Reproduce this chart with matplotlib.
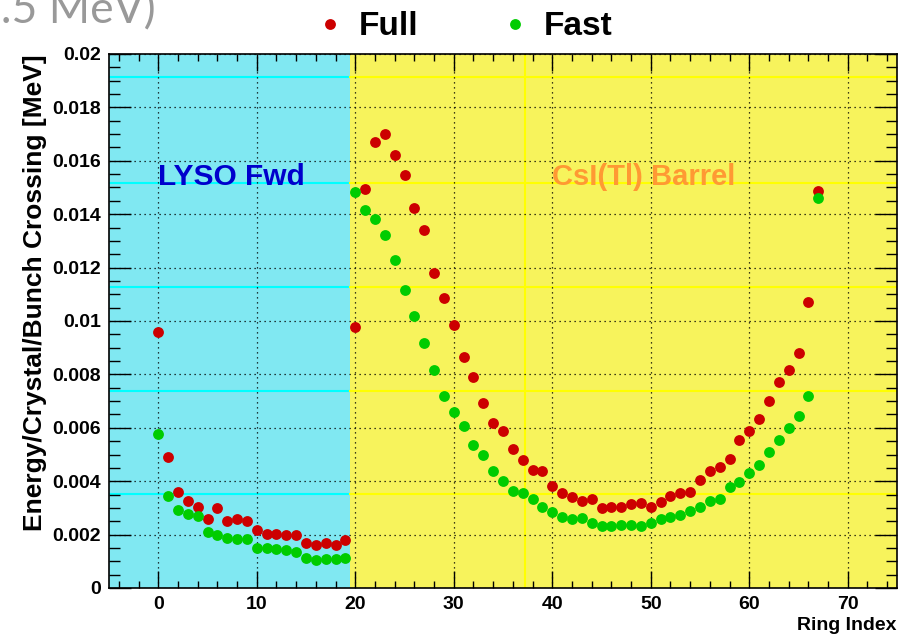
import matplotlib
matplotlib.use("Agg")
import matplotlib.pyplot as plt
from matplotlib.ticker import MultipleLocator, FuncFormatter
import numpy as np

# ring index and energy per crystal per bunch crossing [MeV]
ring = list(range(68))
full = [0.00957, 0.00492, 0.00358, 0.00327, 0.00304, 0.00259, 0.00298, 0.00250, 0.00260, 0.00250,
        0.00217, 0.00204, 0.00201, 0.00199, 0.00200, 0.00169, 0.00160, 0.00170, 0.00160, 0.00179,
        0.00976, 0.01495, 0.01670, 0.01699, 0.01621, 0.01545, 0.01424, 0.01340, 0.01178, 0.01087,
        0.00986, 0.00867, 0.00792, 0.00693, 0.00619, 0.00589, 0.00519, 0.00479, 0.00442, 0.00437,
        0.00382, 0.00354, 0.00341, 0.00325, 0.00332, 0.00298, 0.00304, 0.00303, 0.00313, 0.00320,
        0.00304, 0.00322, 0.00344, 0.00357, 0.00359, 0.00404, 0.00438, 0.00454, 0.00484, 0.00554,
        0.00588, 0.00633, 0.00702, 0.00771, 0.00818, 0.00880, 0.01071, 0.01486]
fast = [0.00577, 0.00344, 0.00294, 0.00279, 0.00269, 0.00210, 0.00198, 0.00189, 0.00183, 0.00182,
        0.00149, 0.00149, 0.00145, 0.00141, 0.00133, 0.00114, 0.00104, 0.00108, 0.00110, 0.00113,
        0.01482, 0.01415, 0.01381, 0.01321, 0.01230, 0.01117, 0.01017, 0.00917, 0.00818, 0.00720,
        0.00659, 0.00607, 0.00535, 0.00498, 0.00438, 0.00402, 0.00364, 0.00354, 0.00333, 0.00302,
        0.00285, 0.00266, 0.00257, 0.00263, 0.00242, 0.00234, 0.00234, 0.00235, 0.00235, 0.00233,
        0.00244, 0.00260, 0.00266, 0.00273, 0.00288, 0.00302, 0.00325, 0.00335, 0.00377, 0.00398,
        0.00432, 0.00460, 0.00508, 0.00553, 0.00600, 0.00645, 0.00719, 0.01460]

x_min, x_max = -5, 75
boundary = 19.5

plt.rcParams['font.family'] = ['Liberation Sans', 'DejaVu Sans']
plt.rcParams['font.weight'] = 'bold'

fig = plt.figure(figsize=(9, 6.41), dpi=100)
ax = fig.add_axes([109/900, 1-588/641, (897-109)/900, (588-54)/641])

# detector regions
ax.axvspan(x_min, boundary, color='#80e8f2', zorder=0, lw=0)
ax.axvspan(boundary, x_max, color='#f7f35c', zorder=0, lw=0)
# brighter seams of the fill pattern
for yy in [0.01913, 0.01518, 0.01128, 0.00738, 0.00351]:
    ax.plot([x_min, boundary], [yy, yy], color='#00ffff', lw=1.5, zorder=0.2)
    ax.plot([boundary, x_max], [yy, yy], color='#ffff00', lw=1.5, zorder=0.2)
ax.plot([37.2, 37.2], [0, 0.02], color='#ffff00', lw=1.5, zorder=0.2)

ax.plot(ring, full, 'o', color='#cc0000', ms=7.8, mew=0, label='Full', zorder=3)
ax.plot(ring, fast, 'o', color='#00cc00', ms=7.8, mew=0, label='Fast', zorder=3)

ax.set_xlim(x_min, x_max)
ax.set_ylim(0, 0.02)
ax.set_axisbelow(True)
ax.grid(True, which='major', color='black', linestyle=(0, (1, 3)), linewidth=0.9)

ax.xaxis.set_major_locator(MultipleLocator(10))
ax.xaxis.set_minor_locator(MultipleLocator(2))
ax.yaxis.set_major_locator(MultipleLocator(0.002))
ax.yaxis.set_minor_locator(MultipleLocator(0.0005))
ax.yaxis.set_major_formatter(FuncFormatter(lambda v, p: '%g' % round(v, 4)))
ax.tick_params(which='both', direction='in', top=True, right=True, labelsize=14, width=1)
ax.tick_params(axis='y', which='major', length=16, pad=6)
ax.tick_params(axis='y', which='minor', length=8)
ax.tick_params(axis='x', which='major', length=12, pad=6)
ax.tick_params(axis='x', which='minor', length=5)
for s in ax.spines.values():
    s.set_linewidth(1.2)

ax.set_ylabel('Energy/Crystal/Bunch Crossing [MeV]', fontsize=19, fontweight='bold', loc='top')
ax.yaxis.set_label_coords(-0.079, 1.0)
ax.set_xlabel('Ring Index', fontsize=14, fontweight='bold', loc='right')
ax.xaxis.set_label_coords(1.0, -0.054)

ax.text(0, 0.01541, 'LYSO Fwd', color='#0000cc', fontsize=21.5, fontweight='bold',
        ha='left', va='center')
ax.text(40, 0.01541, 'CsI(Tl) Barrel', color='#ff9933', fontsize=21, fontweight='bold',
        ha='left', va='center')

ax.legend(loc='center', bbox_to_anchor=(0.518, 0.958), bbox_transform=fig.transFigure,
          ncol=2, frameon=False, prop={'size': 24, 'weight': 'bold'},
          handlelength=0.6, handletextpad=0.55, columnspacing=2.6, markerscale=1.0)

# cut-off slide title above the plot
fig.text(156/900, 1-23/641, '0.5 MeV)', color='#999999', fontsize=32,
         family=['Lato', 'DejaVu Sans'], fontweight='normal', ha='right', va='baseline')

fig.savefig('out.png', dpi=100)
